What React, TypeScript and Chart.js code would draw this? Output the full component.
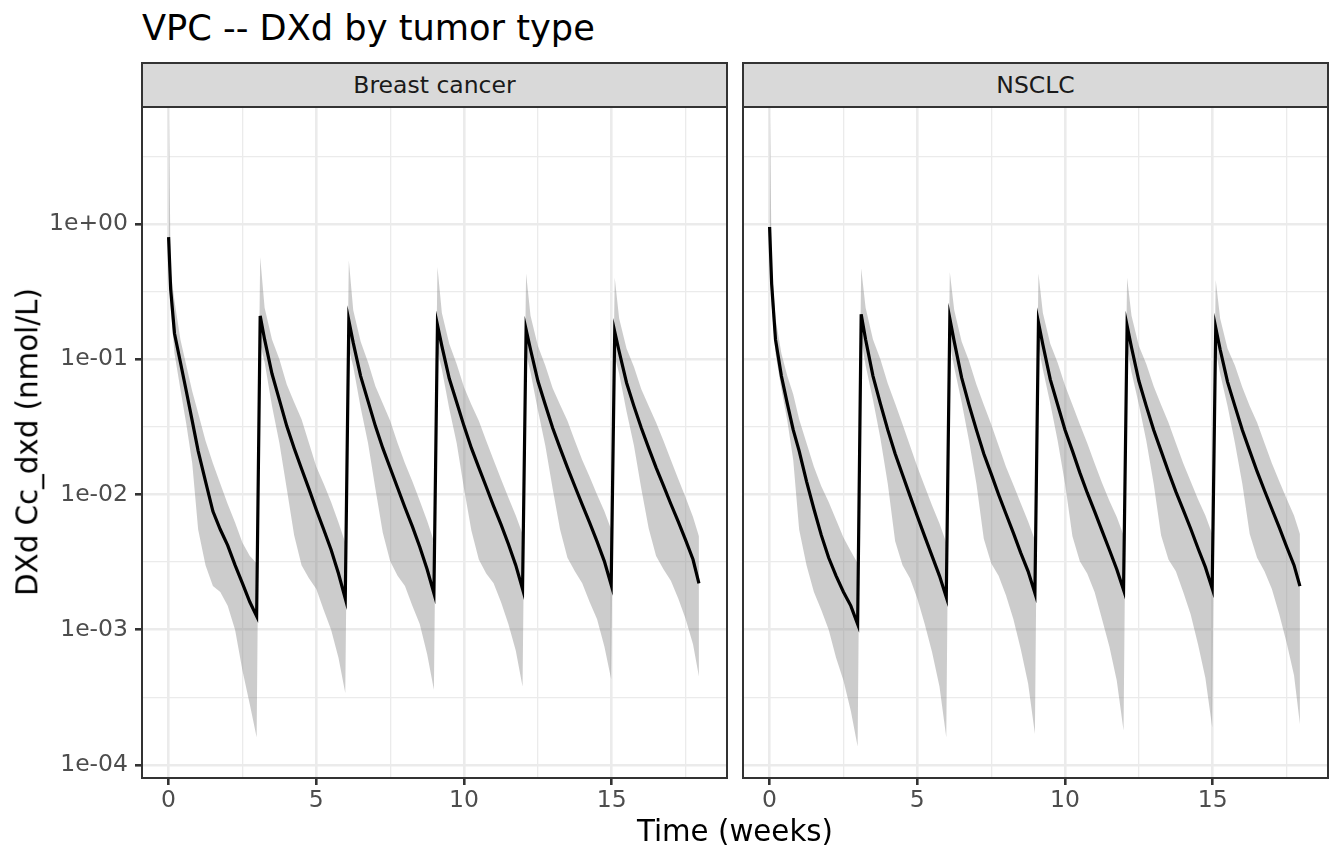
import React, { useEffect, useRef } from 'react';
import { Chart, registerables } from 'chart.js';

Chart.register(...registerables);

// ---------------- data ----------------
const chartTitle = 'VPC -- DXd by tumor type';
const xAxisTitle = 'Time (weeks)';
const yAxisTitle = 'DXd Cc_dxd (nmol/L)';
const panelNames = ['Breast cancer', 'NSCLC'];

const timeWeeks = [
  0, 0.07, 0.2, 0.4, 0.6, 0.8, 1.0, 1.25, 1.5, 1.75, 2.0, 2.25, 2.5, 2.75, 2.98,
  3.1, 3.25, 3.5, 3.75, 4.0, 4.25, 4.5, 4.75, 5.0, 5.25, 5.5, 5.75, 5.98,
  6.1, 6.25, 6.5, 6.75, 7.0, 7.25, 7.5, 7.75, 8.0, 8.25, 8.5, 8.75, 8.98,
  9.1, 9.25, 9.5, 9.75, 10.0, 10.25, 10.5, 10.75, 11.0, 11.25, 11.5, 11.75, 11.98,
  12.1, 12.25, 12.5, 12.75, 13.0, 13.25, 13.5, 13.75, 14.0, 14.25, 14.5, 14.75, 14.98,
  15.1, 15.25, 15.5, 15.75, 16.0, 16.25, 16.5, 16.75, 17.0, 17.25, 17.5, 17.75, 17.95,
];

const breastMedian = [
  0.80, 0.33, 0.155, 0.095, 0.058, 0.035, 0.021, 0.0125, 0.0075, 0.0055, 0.0042, 0.0030, 0.0022, 0.0016, 0.00126,
  0.209, 0.14, 0.078, 0.050, 0.032, 0.022, 0.0155, 0.011, 0.0077, 0.0055, 0.0039, 0.0026, 0.0017,
  0.193, 0.132, 0.075, 0.049, 0.032, 0.022, 0.0157, 0.0112, 0.0080, 0.0058, 0.0041, 0.0028, 0.00186,
  0.179, 0.125, 0.072, 0.048, 0.032, 0.022, 0.0158, 0.0114, 0.0082, 0.0060, 0.0043, 0.0030, 0.0020,
  0.166, 0.118, 0.069, 0.046, 0.031, 0.022, 0.0158, 0.0115, 0.0084, 0.0062, 0.0045, 0.0032, 0.00214,
  0.160, 0.114, 0.067, 0.045, 0.031, 0.022, 0.0158, 0.0116, 0.0085, 0.0063, 0.0046, 0.0033, 0.0022,
];
const breastUpper = [
  12, 0.45, 0.27, 0.14, 0.09, 0.058, 0.04, 0.025, 0.017, 0.012, 0.0085, 0.0062, 0.0044, 0.0035, 0.0031,
  0.57, 0.24, 0.14, 0.10, 0.065, 0.048, 0.036, 0.024, 0.016, 0.012, 0.0088, 0.0062, 0.0044,
  0.54, 0.23, 0.135, 0.095, 0.063, 0.047, 0.035, 0.024, 0.017, 0.0125, 0.009, 0.0064, 0.0045,
  0.48, 0.22, 0.13, 0.092, 0.062, 0.046, 0.035, 0.025, 0.018, 0.013, 0.0095, 0.007, 0.0051,
  0.43, 0.21, 0.125, 0.09, 0.061, 0.046, 0.035, 0.025, 0.018, 0.0135, 0.010, 0.0075, 0.0055,
  0.40, 0.20, 0.12, 0.088, 0.060, 0.045, 0.034, 0.025, 0.018, 0.013, 0.0095, 0.0068, 0.0049,
];
const breastLower = [
  0.50, 0.24, 0.11, 0.06, 0.033, 0.017, 0.0055, 0.0030, 0.0021, 0.0019, 0.0015, 0.0010, 0.00050, 0.00028, 0.00016,
  0.13, 0.095, 0.045, 0.024, 0.011, 0.0050, 0.0030, 0.0024, 0.0020, 0.0014, 0.0010, 0.00062, 0.00034,
  0.12, 0.088, 0.044, 0.024, 0.011, 0.0052, 0.0032, 0.0025, 0.0021, 0.0015, 0.0011, 0.00066, 0.00036,
  0.115, 0.084, 0.043, 0.024, 0.011, 0.0054, 0.0033, 0.0026, 0.0022, 0.0016, 0.0011, 0.0007, 0.00038,
  0.11, 0.080, 0.042, 0.023, 0.011, 0.0055, 0.0034, 0.0027, 0.0022, 0.0016, 0.0012, 0.00075, 0.00043,
  0.105, 0.078, 0.041, 0.023, 0.011, 0.0056, 0.0035, 0.0028, 0.0023, 0.0017, 0.0012, 0.00078, 0.00045,
];

const nsclcMedian = [
  0.95, 0.36, 0.14, 0.075, 0.047, 0.030, 0.021, 0.0125, 0.0078, 0.0050, 0.0034, 0.0025, 0.0019, 0.0015, 0.0011,
  0.215, 0.14, 0.075, 0.047, 0.030, 0.020, 0.014, 0.0098, 0.0069, 0.0049, 0.0035, 0.0025, 0.00174,
  0.20, 0.135, 0.073, 0.046, 0.030, 0.020, 0.0142, 0.0100, 0.0072, 0.0052, 0.0037, 0.0027, 0.00186,
  0.187, 0.128, 0.071, 0.046, 0.030, 0.021, 0.0145, 0.0103, 0.0075, 0.0054, 0.0039, 0.0028, 0.00197,
  0.177, 0.122, 0.069, 0.045, 0.030, 0.021, 0.0147, 0.0105, 0.0077, 0.0056, 0.0040, 0.0029, 0.00202,
  0.171, 0.118, 0.068, 0.045, 0.030, 0.021, 0.0148, 0.0107, 0.0078, 0.0057, 0.0041, 0.0030, 0.0021,
];
const nsclcUpper = [
  12, 0.5, 0.2, 0.11, 0.075, 0.055, 0.036, 0.024, 0.016, 0.0115, 0.0088, 0.0065, 0.0048, 0.0038, 0.0031,
  0.47, 0.24, 0.14, 0.10, 0.066, 0.047, 0.033, 0.023, 0.016, 0.0115, 0.0083, 0.0061, 0.0044,
  0.44, 0.23, 0.135, 0.097, 0.065, 0.046, 0.033, 0.023, 0.016, 0.0118, 0.0086, 0.0063, 0.0046,
  0.43, 0.22, 0.13, 0.094, 0.064, 0.046, 0.033, 0.024, 0.017, 0.0122, 0.009, 0.0068, 0.005,
  0.40, 0.21, 0.125, 0.092, 0.063, 0.046, 0.034, 0.024, 0.017, 0.0125, 0.0092, 0.007, 0.0051,
  0.385, 0.20, 0.12, 0.09, 0.062, 0.045, 0.034, 0.024, 0.017, 0.0125, 0.0093, 0.007, 0.0051,
];
const nsclcLower = [
  0.55, 0.25, 0.11, 0.06, 0.035, 0.018, 0.0055, 0.0030, 0.0019, 0.0014, 0.0010, 0.00062, 0.00042, 0.00025, 0.000137,
  0.14, 0.09, 0.05, 0.026, 0.012, 0.0045, 0.0030, 0.0024, 0.0017, 0.0011, 0.00068, 0.00038, 0.00016,
  0.13, 0.087, 0.048, 0.025, 0.012, 0.0047, 0.0031, 0.0025, 0.0018, 0.0012, 0.00072, 0.0004, 0.00017,
  0.125, 0.084, 0.047, 0.025, 0.012, 0.0049, 0.0032, 0.0026, 0.0019, 0.0012, 0.00075, 0.00042, 0.00018,
  0.12, 0.08, 0.046, 0.025, 0.012, 0.005, 0.0033, 0.0027, 0.0019, 0.0013, 0.00078, 0.00044, 0.00019,
  0.115, 0.078, 0.045, 0.024, 0.012, 0.0051, 0.0034, 0.0027, 0.002, 0.0013, 0.0008, 0.00046, 0.0002,
];

const xTicks = [0, 2.5, 5, 7.5, 10, 12.5, 15, 17.5];
const xTickLabels = ['0', '', '5', '', '10', '', '15', ''];
const yTicks = [0.0001, 0.00031623, 0.001, 0.0031623, 0.01, 0.031623, 0.1, 0.31623, 1, 3.1623];
const yTickLabels = ['1e-04', '', '1e-03', '', '1e-02', '', '1e-01', '', '1e+00', ''];

const xMin = -0.9;
const xMax = 18.9;
const yMin = 8.0e-5;
const yMax = 7.33;

// ---------------- styling ----------------
const FONT = "'DejaVu Sans', 'Noto Sans', sans-serif";
const GRID = '#EBEBEB';
const DARK = '#333333';

const panelBorder = {
  id: 'panelBorder',
  afterDatasetsDraw(chart: any) {
    const { ctx, chartArea: a } = chart;
    ctx.save();
    ctx.strokeStyle = DARK;
    ctx.lineWidth = 2;
    ctx.strokeRect(a.left, a.top, a.right - a.left, a.bottom - a.top);
    ctx.restore();
  },
};

const zeroPadding = (s: any) => {
  s.paddingTop = 0;
  s.paddingBottom = 0;
  s.paddingLeft = 0;
  s.paddingRight = 0;
};

function Panel(props: {
  median: number[];
  lower: number[];
  upper: number[];
  showY: boolean;
  left: number;
  width: number;
}) {
  const { median, lower, upper, showY, left, width } = props;
  const ref = useRef<HTMLCanvasElement>(null);

  useEffect(() => {
    const canvas = ref.current;
    if (!canvas) return;
    const pts = (arr: number[]) => timeWeeks.map((t, i) => ({ x: t, y: arr[i] }));
    const xMajor = (ctx: any) => {
      const i = ctx.tick ? xTicks.indexOf(ctx.tick.value) : -1;
      return i >= 0 && xTickLabels[i] !== '';
    };
    const yMajor = (ctx: any) => {
      const i = ctx.tick ? yTicks.indexOf(ctx.tick.value) : -1;
      return i >= 0 && yTickLabels[i] !== '';
    };
    const chart = new Chart(canvas, {
      type: 'line',
      data: {
        datasets: [
          {
            data: pts(median),
            borderColor: '#000000',
            borderWidth: 3.2,
            pointRadius: 0,
            fill: false,
            tension: 0,
            order: 0,
          },
          {
            data: pts(upper),
            borderColor: 'rgba(0,0,0,0)',
            borderWidth: 0,
            backgroundColor: 'rgba(127,127,127,0.4)',
            pointRadius: 0,
            fill: '+1',
            tension: 0,
            order: 1,
          },
          {
            data: pts(lower),
            borderColor: 'rgba(0,0,0,0)',
            borderWidth: 0,
            pointRadius: 0,
            fill: false,
            tension: 0,
            order: 2,
          },
        ],
      },
      options: {
        animation: false,
        responsive: false,
        events: [],
        layout: { autoPadding: false, padding: { top: 7, right: 8, left: 0, bottom: 0 } },
        plugins: { legend: { display: false }, tooltip: { enabled: false } },
        scales: {
          x: {
            type: 'linear',
            min: xMin,
            max: xMax,
            bounds: 'data',
            afterBuildTicks: (s: any) => {
              s.ticks = xTicks.map((v) => ({ value: v }));
            },
            afterFit: (s: any) => {
              s.height = 52;
              zeroPadding(s);
            },
            ticks: {
              autoSkip: false,
              maxRotation: 0,
              padding: 2,
              color: '#4D4D4D',
              font: { family: FONT, size: 23.5 },
              callback: (_v: any, i: number) => xTickLabels[i],
            },
            grid: {
              color: GRID,
              lineWidth: (ctx: any) => (xMajor(ctx) ? 2.6 : 1.3),
              tickLength: 7,
              tickWidth: 2.6,
              tickColor: (ctx: any) => (xMajor(ctx) ? DARK : 'rgba(0,0,0,0)'),
            },
            border: { display: false },
          },
          y: {
            type: 'logarithmic',
            min: yMin,
            max: yMax,
            bounds: 'data',
            afterBuildTicks: (s: any) => {
              s.ticks = yTicks.map((v) => ({ value: v }));
            },
            afterFit: (s: any) => {
              s.width = showY ? 142 : 8;
              zeroPadding(s);
            },
            ticks: {
              display: showY,
              autoSkip: false,
              padding: 7,
              color: '#4D4D4D',
              font: { family: FONT, size: 23.5 },
              callback: (_v: any, i: number) => yTickLabels[i],
            },
            grid: {
              color: GRID,
              lineWidth: (ctx: any) => (yMajor(ctx) ? 2.6 : 1.3),
              drawTicks: showY,
              tickLength: 7,
              tickWidth: 2.6,
              tickColor: (ctx: any) => (yMajor(ctx) ? DARK : 'rgba(0,0,0,0)'),
            },
            border: { display: false },
          },
        },
      } as any,
      plugins: [panelBorder],
    });
    return () => chart.destroy();
  }, []);

  return (
    <canvas
      ref={ref}
      width={width}
      height={730}
      style={{ position: 'absolute', left, top: 100, width, height: 730 }}
    />
  );
}

const stripStyle = (left: number): React.CSSProperties => ({
  position: 'absolute',
  left,
  top: 62,
  width: 587,
  height: 46,
  boxSizing: 'border-box',
  border: '2px solid #333333',
  background: '#D9D9D9',
  color: '#1A1A1A',
  fontFamily: FONT,
  fontSize: 23.5,
  lineHeight: '42px',
  textAlign: 'center',
  whiteSpace: 'nowrap',
});

export default function App() {
  return (
    <div
      style={{
        position: 'fixed',
        left: 0,
        top: 0,
        width: 1344,
        height: 864,
        background: '#FFFFFF',
        fontFamily: FONT,
        overflow: 'hidden',
      }}
    >
      <div
        style={{
          position: 'absolute',
          left: 142,
          top: 28,
          transform: 'translateY(-50%)',
          fontSize: 35.2,
          lineHeight: 1,
          color: '#000000',
          whiteSpace: 'nowrap',
        }}
      >
        {chartTitle}
      </div>
      <div style={stripStyle(141)}>{panelNames[0]}</div>
      <div style={stripStyle(742)}>{panelNames[1]}</div>
      <Panel median={breastMedian} lower={breastLower} upper={breastUpper} showY={true} left={0} width={735} />
      <Panel median={nsclcMedian} lower={nsclcLower} upper={nsclcUpper} showY={false} left={735} width={601} />
      <div
        style={{
          position: 'absolute',
          left: 735,
          top: 832,
          transform: 'translate(-50%, -50%)',
          fontSize: 29.3,
          lineHeight: 1,
          color: '#000000',
          whiteSpace: 'nowrap',
        }}
      >
        {xAxisTitle}
      </div>
      <div
        style={{
          position: 'absolute',
          left: 28,
          top: 442,
          transform: 'translate(-50%, -50%) rotate(-90deg)',
          fontSize: 29.3,
          lineHeight: 1,
          color: '#000000',
          whiteSpace: 'nowrap',
        }}
      >
        {yAxisTitle}
      </div>
    </div>
  );
}
